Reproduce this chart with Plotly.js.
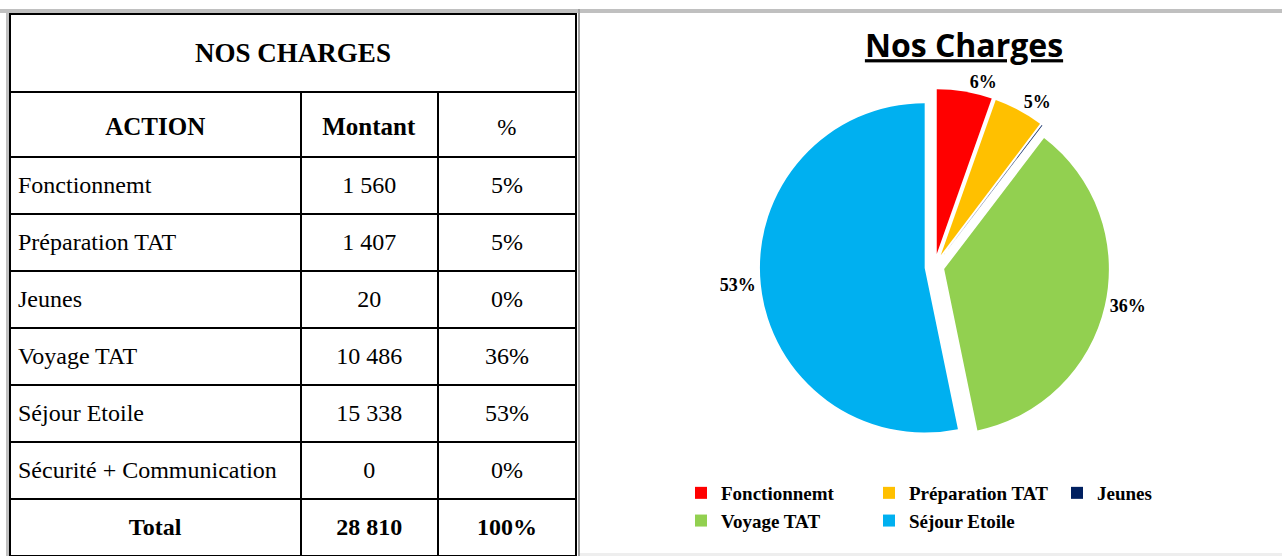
<!DOCTYPE html>
<html><head><meta charset="utf-8">
<script src="https://cdn.plot.ly/plotly-3.0.1.min.js"></script>
<style>
html,body{margin:0;padding:0;background:#fff;overflow:hidden}
#wrap{position:relative;width:1282px;height:556px}
#tbl{position:absolute;left:0;top:0;width:580px;height:556px}
#pie{position:absolute;left:580px;top:0;width:702px;height:556px}
</style>
</head><body><div id="wrap"><div id="tbl"></div><div id="pie"></div></div>
<script>
// ---- data ----
const tableTitle = "NOS CHARGES";
const headers = ["ACTION", "Montant", "%"];
const actions = ["Fonctionnemt", "Préparation TAT", "Jeunes", "Voyage TAT", "Séjour Etoile", "Sécurité + Communication"];
const montants = ["1 560", "1 407", "20", "10 486", "15 338", "0"];
const pcts = ["5%", "5%", "0%", "36%", "53%", "0%"];
const totalRow = ["Total", "28 810", "100%"];

const pieTitle = "Nos Charges";
const pieLabels = ["Fonctionnemt", "Préparation TAT", "Jeunes", "Voyage TAT", "Séjour Etoile"];
const pieValues = [1560, 1407, 20, 10486, 15338];
const pieText = ["6%", "5%", "", "36%", "53%"];
const pieColors = ["#FF0000", "#FFC000", "#002060", "#92D050", "#00B0F0"];

// ---- helpers ----
const H = 556, WT = 580, WP = 702;
const serif = "Liberation Serif, Times New Roman, serif";
// an invisible tiny first line pushes the real text down so it sits mid-cell
const cellTxt = (s, px, isBold) =>
  "<span style='font-size:1px;color:#ffffff'>\u00a0</span><br>" +
  "<span style='font-size:" + px + "px'>" + (isBold ? "<b>" + s + "</b>" : s) + "</span>";

// ---- table ----
const tX = [10 / WT, 576 / WT];
const titleTable = {
  type: "table",
  domain: {x: tX, y: [(H - 92) / H, (H - 14) / H]},
  columnwidth: [1],
  header: {
    values: [cellTxt(tableTitle, 27, true)],
    height: 78,
    align: "center",
    line: {color: "#000", width: 2},
    fill: {color: "#fff"},
    font: {family: serif, size: 30, color: "#000"}
  },
  cells: {values: [[]], height: 1, line: {color: "#000", width: 2}, fill: {color: "#fff"}}
};

const colAction = actions.map(s => cellTxt(s, 24, false)).concat([cellTxt(totalRow[0], 24, true)]);
const colMontant = montants.map(s => cellTxt(s, 24, false)).concat([cellTxt(totalRow[1], 24, true)]);
const colPct = pcts.map(s => cellTxt(s, 24, false)).concat([cellTxt(totalRow[2], 24, true)]);
const actionAlign = actions.map(() => "left").concat(["center"]);

const mainTable = {
  type: "table",
  domain: {x: tX, y: [0, (H - 92) / H]},
  columnwidth: [290, 137, 138],
  header: {
    values: headers.map(s => cellTxt(s, s === "%" ? 23 : 25, s !== "%")),
    height: 65,
    align: "center",
    line: {color: "#000", width: 2},
    fill: {color: "#fff"},
    font: {family: serif, size: 26, color: "#000"}
  },
  cells: {
    values: [colAction, colMontant, colPct],
    height: 57,
    align: [actionAlign, "center", "center"],
    line: {color: "#000", width: 2},
    fill: {color: "#fff"},
    font: {family: serif, size: 20.8, color: "#000"}
  }
};

const tblShapes = [
  {type: "rect", xref: "paper", yref: "paper", x0: 0, x1: 1, y0: (H - 13) / H, y1: (H - 9) / H, fillcolor: "#c0c0c0", line: {width: 0}},
  {type: "rect", xref: "paper", yref: "paper", x0: 6 / WT, x1: 9 / WT, y0: 0, y1: (H - 9) / H, fillcolor: "#c0c0c0", line: {width: 0}},
  {type: "rect", xref: "paper", yref: "paper", x0: 578 / WT, x1: 1, y0: 0, y1: (H - 9) / H, fillcolor: "#a0a0a0", line: {width: 0}}
];

Plotly.newPlot("tbl", [titleTable, mainTable], {
  width: WT, height: H,
  margin: {l: 0, r: 0, t: 0, b: 0, autoexpand: false},
  paper_bgcolor: "#fff",
  shapes: tblShapes
}, {displayModeBar: false, staticPlot: true});

// ---- pie ----
const pie = {
  type: "pie",
  labels: pieLabels,
  values: pieValues,
  text: pieText,
  textinfo: "text",
  texttemplate: "%{text}",
  textposition: "outside",
  sort: false,
  direction: "clockwise",
  rotation: 0,
  pull: [0.08, 0.08, 0.08, 0.06, 0.06],
  marker: {colors: pieColors, line: {color: "#fff", width: 0}},
  outsidetextfont: {family: serif, size: 18, color: "#000", weight: "bold"},
  domain: {x: [0.18, 0.83], y: [0.2, 0.84]},
  showlegend: true,
  hoverinfo: "label+value+percent"
};

const pieShapes = [
  {type: "rect", xref: "paper", yref: "paper", x0: 0, x1: 1, y0: (H - 13) / H, y1: (H - 9) / H, fillcolor: "#c0c0c0", line: {width: 0}},
  {type: "rect", xref: "paper", yref: "paper", x0: 0, x1: 1, y0: 0, y1: 3 / H, fillcolor: "#eeeeee", line: {width: 0}}
];

Plotly.newPlot("pie", [pie], {
  width: WP, height: H,
  margin: {l: 0, r: 0, t: 0, b: 0, autoexpand: false},
  paper_bgcolor: "#fff",
  title: {
    text: "<u><b>" + pieTitle + "</b></u>",
    x: (964 - 580) / WP, xanchor: "center",
    y: (H - 46) / H, yanchor: "middle",
    font: {family: "Open Sans, sans-serif", size: 32, color: "#000"}
  },
  legend: {
    orientation: "h",
    x: (681 - 580) / WP, xanchor: "left",
    y: (H - 474) / H, yanchor: "top",
    entrywidth: 143,
    font: {family: serif, size: 19, color: "#000", weight: "bold"},
    traceorder: "normal"
  },
  shapes: pieShapes
}, {displayModeBar: false, staticPlot: true});
</script>
</body></html>
